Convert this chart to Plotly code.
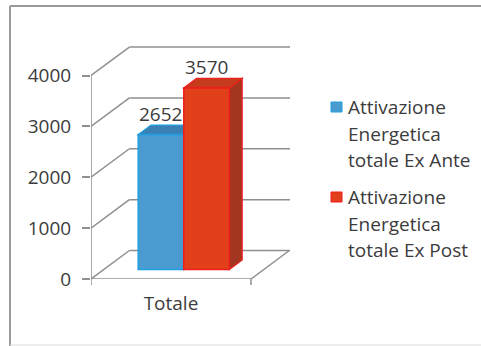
import plotly.graph_objects as go

# ---- data -------------------------------------------------------------
categories = ["Totale"]
series_names = [
    "Attivazione Energetica totale Ex Ante",
    "Attivazione Energetica totale Ex Post",
]
legend_lines = [
    ["Attivazione", "Energetica", "totale Ex Ante"],
    ["Attivazione", "Energetica", "totale Ex Post"],
]
values = [2652, 3570]
y_ticks = [0, 1000, 2000, 3000, 4000]

# ---- styling ----------------------------------------------------------
W, H = 481, 346
FONT = "Open Sans"
FS = 19
TEXT = "#3c3c3c"
GRID = "#8f8f8f"
front_col = ["#4a9bd0", "#e2401a"]
edge_col = ["#1e9fe2", "#f01d1d"]
top_col = ["#3b80b3", "#c53b1c"]
side_col = ["#2f6c98", "#a2361f"]

# plot window (the front plane) and its axis ranges
X_RANGE = [-0.5, 0.744]
Y_RANGE = [0, 4600]
DOM_X = [91 / W, 290 / W]
DOM_Y = [(H - 279) / H, (H - 45) / H]

# oblique depth of the floor / back wall in axis units
DX, DY = 0.24, 560
BAR_W = 0.285
BAR_FRONT = 1 / 3      # bars sit a third of the way into the depth
BAR_DEPTH = 1 / 3

fig = go.Figure()
shapes = []
annotations = []

# back wall gridlines with their diagonal lead-ins from the value axis
x_left = X_RANGE[0]
for v in y_ticks:
    shapes.append(dict(type="line", xref="x", yref="y", layer="below",
                       x0=x_left, y0=v, x1=x_left + DX, y1=v + DY,
                       line=dict(color=GRID, width=1.5)))
    shapes.append(dict(type="line", xref="x", yref="y", layer="below",
                       x0=x_left + DX, y0=v + DY, x1=X_RANGE[1], y1=v + DY,
                       line=dict(color=GRID, width=1.5)))
# floor: front edge, right edge
shapes.append(dict(type="line", xref="x", yref="y", layer="below",
                   x0=-0.5, y0=0, x1=0.5, y1=0, line=dict(color=GRID, width=1.5)))
shapes.append(dict(type="line", xref="x", yref="y", layer="below",
                   x0=0.5, y0=0, x1=0.5 + DX, y1=DY, line=dict(color=GRID, width=1.5)))
# value axis line
shapes.append(dict(type="line", xref="x", yref="y", layer="below",
                   x0=-0.5, y0=0, x1=-0.5, y1=y_ticks[-1], line=dict(color=GRID, width=1.5)))

# bars: front faces as bar traces, top/side faces as shapes
sx, sy = DX * BAR_DEPTH, DY * BAR_DEPTH
base = DY * BAR_FRONT
n = len(values)
for i, (name, val) in enumerate(zip(series_names, values)):
    left = -n * BAR_W / 2 + i * BAR_W + DX * BAR_FRONT
    right = left + BAR_W
    top = base + val
    # side face
    shapes.append(dict(type="path", xref="x", yref="y", layer="below",
                       path=f"M{right},{base} L{right + sx},{base + sy} L{right + sx},{top + sy} L{right},{top} Z",
                       fillcolor=side_col[i], line=dict(color=edge_col[i], width=1.2)))
    # top face
    shapes.append(dict(type="path", xref="x", yref="y", layer="below",
                       path=f"M{left},{top} L{right},{top} L{right + sx},{top + sy} L{left + sx},{top + sy} Z",
                       fillcolor=top_col[i], line=dict(color=edge_col[i], width=1.2)))
    fig.add_trace(go.Bar(
        x=[0], y=[val], base=[base], width=[BAR_W], offset=left,
        name=name, showlegend=False,
        marker=dict(color=front_col[i], line=dict(color=edge_col[i], width=1.5)),
        hovertemplate=f"{name}: %{{y}}<extra></extra>",
    ))
    annotations.append(dict(xref="x", yref="y", x=left + BAR_W / 2, y=top,
                            text=str(val), showarrow=False, yanchor="middle", yshift=21,
                            font=dict(family=FONT, size=FS, color=TEXT)))

# legend drawn by hand for Excel-like spacing
leg_y0 = 107
item_gap = 90
line_gap = 26.5
for i, lines in enumerate(legend_lines):
    cy = leg_y0 + i * item_gap
    shapes.append(dict(type="rect", xref="paper", yref="paper",
                       x0=331 / W, x1=342 / W, y0=1 - (cy + 5) / H, y1=1 - (cy - 5) / H,
                       fillcolor=front_col[i], line=dict(color=edge_col[i], width=1)))
    for j, txt in enumerate(lines):
        annotations.append(dict(xref="paper", yref="paper", x=346 / W,
                                y=1 - (cy + j * line_gap) / H,
                                xanchor="left", yanchor="middle", text=txt, showarrow=False,
                                font=dict(family=FONT, size=FS, color=TEXT)))

# outer frame
shapes.append(dict(type="line", xref="paper", yref="paper", x0=10 / W, x1=1, y0=1 - 6 / H, y1=1 - 6 / H,
                   line=dict(color="#9a9a9a", width=2)))
shapes.append(dict(type="line", xref="paper", yref="paper", x0=10 / W, x1=10 / W, y0=0, y1=1 - 6 / H,
                   line=dict(color="#9a9a9a", width=2)))
shapes.append(dict(type="line", xref="paper", yref="paper", x0=10 / W, x1=1, y0=1 / H, y1=1 / H,
                   line=dict(color="#dcdcdc", width=1)))

fig.update_layout(
    width=W, height=H,
    margin=dict(l=0, r=0, t=0, b=0, autoexpand=False),
    paper_bgcolor="white", plot_bgcolor="rgba(0,0,0,0)",
    barmode="overlay",
    showlegend=False,
    shapes=shapes, annotations=annotations,
    font=dict(family=FONT, size=FS, color=TEXT),
    xaxis=dict(domain=DOM_X, range=X_RANGE, showgrid=False, zeroline=False, showline=False,
               automargin=False,
               tickmode="array", tickvals=[0], ticktext=categories,
               ticks="", ticklabelstandoff=11, fixedrange=True),
    yaxis=dict(domain=DOM_Y, range=Y_RANGE, showgrid=False, zeroline=False, showline=False,
               automargin=False,
               tickmode="array", tickvals=y_ticks, ticks="outside", ticklen=8,
               tickcolor=GRID, tickwidth=1.5, ticklabelstandoff=7, fixedrange=True),
)
# boundary ticks under the category axis
for xb in (-0.5, 0.5):
    fig.add_shape(type="line", xref="x", yref="paper", x0=xb, x1=xb,
                  y0=DOM_Y[0], y1=DOM_Y[0] - 6 / H, line=dict(color=GRID, width=1.5))

fig.write_html("out.html")
